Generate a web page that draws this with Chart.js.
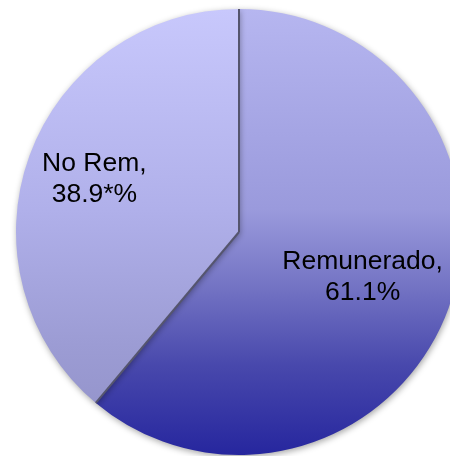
<!DOCTYPE html>
<html>
<head>
<meta charset="utf-8">
<script src="https://cdn.jsdelivr.net/npm/chart.js@4/dist/chart.umd.min.js"></script>
<style>
  html, body { margin: 0; padding: 0; background: #fff; overflow: hidden; }
  #caja { width: 450px; height: 456px; overflow: hidden; position: relative; }
  #grafico { position: absolute; left: 0; top: 0; }
</style>
</head>
<body>
<div id="caja"><canvas id="grafico" width="478" height="464"></canvas></div>
<script>
// datos del grafico
const categorias = ['Remunerado', 'No Rem'];
const porcentajes = [61.1, 38.9];
const etiquetasValor = ['61.1%', '38.9*%'];

// degradados verticales de cada porcion
const degradados = [
    [[0, '#b6b6f0'], [0.45, '#9a9adc'], [0.62, '#7474c4'], [0.8, '#4848ac'], [1, '#26269e']],
    [[0, '#c8c8fc'], [0.45, '#b0b0ea'], [0.75, '#9c9cd4'], [1, '#9090c6']]
];

function colorPorcion(context){
    const chart = context.chart, area = chart.chartArea;
    if(!area) return '#9999dd';
    const g = chart.ctx.createLinearGradient(0, area.top, 0, area.bottom);
    degradados[context.dataIndex].forEach(s => g.addColorStop(s[0], s[1]));
    return g;
}

// sombra suave alrededor del pastel
const sombra = {
    id: 'sombra',
    beforeDatasetsDraw(chart){
        const ctx = chart.ctx;
        ctx.save();
        ctx.shadowColor = 'rgba(0,0,0,0.35)';
        ctx.shadowBlur = 6;
        ctx.shadowOffsetX = 1;
        ctx.shadowOffsetY = 2;
    },
    afterDatasetsDraw(chart){ chart.ctx.restore(); }
};

// lineas divisorias y etiquetas
const divisoresYEtiquetas = {
    id: 'divisoresYEtiquetas',
    afterDraw(chart, args, opts){
        const ctx = chart.ctx;
        const arcos = chart.getDatasetMeta(0).data;
        ctx.save();
        ctx.strokeStyle = '#55556e'; ctx.lineWidth = 2;
        arcos.forEach(a => {
            ctx.beginPath();
            ctx.moveTo(a.x, a.y);
            ctx.lineTo(a.x + Math.cos(a.startAngle) * a.outerRadius, a.y + Math.sin(a.startAngle) * a.outerRadius);
            ctx.stroke();
        });
        ctx.fillStyle = '#000';
        ctx.font = '26.5px "Liberation Sans", Arial, sans-serif';
        ctx.textAlign = 'center'; ctx.textBaseline = 'middle';
        arcos.forEach((a, i) => {
            const medio = (a.startAngle + a.endAngle) / 2;
            const r = a.outerRadius * opts.posicion[i];
            const x = a.x + Math.cos(medio) * r, y = a.y + Math.sin(medio) * r;
            ctx.fillText(categorias[i] + ',', x, y - 15.5);
            ctx.fillText(etiquetasValor[i], x, y + 15.5);
        });
        ctx.restore();
    }
};

new Chart(document.getElementById('grafico').getContext('2d'), {
    type: 'pie',
    data: {
        labels: categorias,
        datasets: [{
            data: porcentajes,
            backgroundColor: colorPorcion,
            borderWidth: 0
        }]
    },
    options: {
        responsive: false,
        animation: false,
        layout: { padding: 9 },
        plugins: {
            legend: { display: false },
            tooltip: { enabled: false },
            divisoresYEtiquetas: { posicion: [0.59, 0.69] }
        }
    },
    plugins: [sombra, divisoresYEtiquetas]
});
</script>
</body>
</html>
